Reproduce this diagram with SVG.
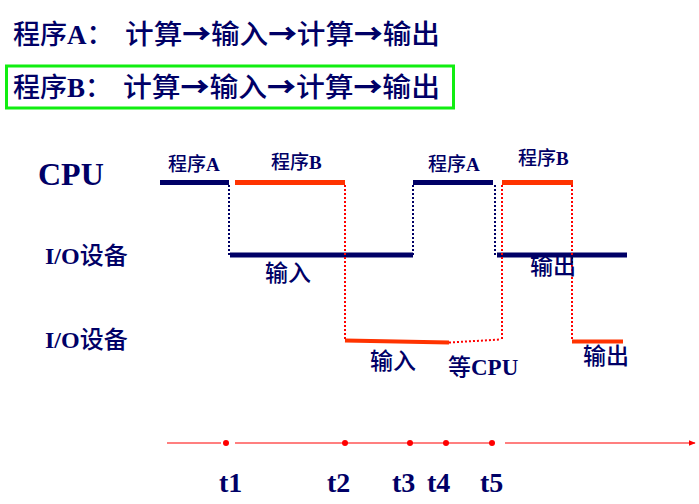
<svg xmlns="http://www.w3.org/2000/svg" width="699" height="504" viewBox="0 0 699 504">
<style>
text{font-family:"Liberation Serif","Noto Sans CJK SC",serif;font-weight:bold;fill:#000066}
.cjk{font-family:"Noto Sans CJK SC","Liberation Serif",sans-serif;font-weight:500}
.ar{font-weight:900}
.title{font-size:27px}
.lbl{font-size:23px}
.small{font-size:19px}
.navy{stroke:#000066;stroke-width:5;fill:none}
.orange{stroke:#ff3300;stroke-width:5;fill:none}
.ndot{stroke:#000066;stroke-width:2;stroke-dasharray:2 2;fill:none}
.rdot{stroke:#ff0000;stroke-width:2;stroke-dasharray:2 2;fill:none}
.axis{stroke:#ff0000;stroke-width:1.2;fill:none}
.tick{fill:#ff0000}
.t{font-size:28px}
</style>
<defs>
<marker id="arr" viewBox="0 0 10 10" refX="9" refY="5" markerWidth="7" markerHeight="7" orient="auto" markerUnits="userSpaceOnUse">
<path d="M0,1 L10,5 L0,9 z" fill="#ff0000"/>
</marker>
</defs>
<rect width="699" height="504" fill="#ffffff"/>

<g id="titleA">
<text class="title" x="13" y="44"><tspan class="cjk">程序</tspan>A<tspan class="cjk">：</tspan></text>
<text class="title cjk" x="125" y="44" textLength="315" lengthAdjust="spacingAndGlyphs">计算<tspan class="ar">→</tspan>输入<tspan class="ar">→</tspan>计算<tspan class="ar">→</tspan>输出</text>
</g>
<g id="titleB">
<rect x="6.5" y="66" width="447" height="42" fill="none" stroke="#11ee11" stroke-width="3"/>
<text class="title" x="13" y="97"><tspan class="cjk">程序</tspan>B<tspan class="cjk">：</tspan></text>
<text class="title cjk" x="123" y="97" textLength="317" lengthAdjust="spacingAndGlyphs">计算<tspan class="ar">→</tspan>输入<tspan class="ar">→</tspan>计算<tspan class="ar">→</tspan>输出</text>
</g>

<g id="rowLabels">
<text x="38" y="185" font-size="32">CPU</text>
<text x="45" y="264" font-size="24">I/O<tspan class="cjk">设备</tspan></text>
<text x="45" y="348" font-size="24">I/O<tspan class="cjk">设备</tspan></text>
</g>

<g id="connectors">
<line class="navy" x1="160" y1="182.5" x2="229" y2="182.5"/>
<line class="orange" x1="235" y1="182.5" x2="345" y2="182.5"/>
<line class="navy" x1="413" y1="182.5" x2="493" y2="182.5"/>
<line class="orange" x1="502" y1="182.5" x2="573" y2="182.5"/>
<line class="navy" x1="230" y1="255" x2="413" y2="255"/>
<line class="navy" x1="497" y1="255" x2="627" y2="255"/>
<line stroke="#ff3300" stroke-width="4" x1="345" y1="340.5" x2="449" y2="342.5"/>
<line class="rdot" x1="449" y1="342.5" x2="501" y2="339.5"/>
<line stroke="#ff3300" stroke-width="4" x1="572" y1="341.5" x2="623" y2="341.5"/>
<line class="ndot" x1="229" y1="185" x2="229" y2="255"/>
<line class="ndot" x1="413" y1="185" x2="413" y2="255"/>
<line class="ndot" x1="495" y1="185" x2="495" y2="255"/>
<line class="rdot" x1="345" y1="185" x2="345" y2="340"/>
<line class="rdot" x1="502" y1="185" x2="502" y2="340"/>
<line class="rdot" x1="572" y1="185" x2="572" y2="340"/>
</g>

<g id="segLabels">
<text class="small" x="168" y="171"><tspan class="cjk">程序</tspan>A</text>
<text class="small" x="271" y="169"><tspan class="cjk">程序</tspan>B</text>
<text class="small" x="428" y="171"><tspan class="cjk">程序</tspan>A</text>
<text class="small" x="518" y="165"><tspan class="cjk">程序</tspan>B</text>
<text class="lbl cjk" x="265" y="281">输入</text>
<text class="lbl cjk" x="530" y="274">输出</text>
<text class="lbl cjk" x="370" y="369">输入</text>
<text class="lbl" x="448" y="375"><tspan class="cjk">等</tspan>CPU</text>
<text class="lbl cjk" x="583" y="364">输出</text>
</g>

<g id="timeAxis">
<line class="axis" x1="167" y1="443" x2="221" y2="443"/>
<line class="axis" x1="235" y1="443" x2="493" y2="443"/>
<line class="axis" x1="505" y1="443" x2="695" y2="443" marker-end="url(#arr)"/>
<circle class="tick" cx="226" cy="443" r="3"/>
<circle class="tick" cx="345" cy="443" r="3"/>
<circle class="tick" cx="410" cy="443" r="3"/>
<circle class="tick" cx="446" cy="443" r="3"/>
<circle class="tick" cx="492" cy="443" r="3"/>
<text class="t" x="219" y="492">t1</text>
<text class="t" x="327" y="492">t2</text>
<text class="t" x="392" y="492">t3</text>
<text class="t" x="427" y="492">t4</text>
<text class="t" x="480" y="492">t5</text>
</g>
</svg>
